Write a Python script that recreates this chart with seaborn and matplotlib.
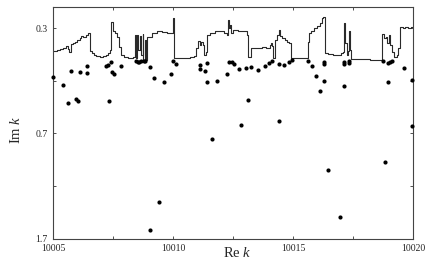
import numpy as np
import pandas as pd
import seaborn as sns
import matplotlib
matplotlib.use('Agg')
import matplotlib.pyplot as plt
from matplotlib.ticker import FixedLocator, NullFormatter

# step curve (Re k, Im k)
line_re = [10005.000, 10005.154, 10005.279, 10005.404, 10005.529, 10005.592, 10005.633, 10005.675,
           10005.738, 10005.821, 10005.904, 10005.988, 10006.113, 10006.154, 10006.238, 10006.363,
           10006.446, 10006.529, 10006.613, 10006.696, 10006.779, 10006.946, 10007.071, 10007.196,
           10007.279, 10007.363, 10007.404, 10007.467, 10007.571, 10007.654, 10007.738, 10007.821,
           10007.946, 10008.113, 10008.321, 10008.404, 10008.446, 10008.508, 10008.550, 10008.613,
           10008.654, 10008.717, 10008.758, 10008.821, 10008.863, 10008.925, 10009.113, 10009.321,
           10009.529, 10009.738, 10009.925, 10009.967, 10010.029, 10010.279, 10010.529, 10010.696,
           10010.863, 10010.946, 10011.029, 10011.113, 10011.154, 10011.238, 10011.300, 10011.363,
           10011.404, 10011.529, 10011.738, 10011.946, 10012.113, 10012.238, 10012.279, 10012.321,
           10012.383, 10012.425, 10012.488, 10012.696, 10012.904, 10013.071, 10013.125, 10013.225,
           10013.488, 10013.696, 10013.863, 10013.958, 10014.029, 10014.071, 10014.100, 10014.142,
           10014.238, 10014.308, 10014.404, 10014.446, 10014.517, 10014.654, 10014.750, 10014.833,
           10014.904, 10015.625, 10015.675, 10015.738, 10015.863, 10015.988, 10016.113, 10016.196,
           10016.250, 10016.321, 10016.446, 10016.654, 10016.863, 10016.988, 10017.071, 10017.113,
           10017.154, 10017.217, 10017.279, 10017.321, 10017.363, 10017.404, 10017.779, 10018.196,
           10018.683, 10018.779, 10018.863, 10018.925, 10019.008, 10019.050, 10019.133, 10019.196,
           10019.321, 10019.383, 10019.446, 10019.571, 10019.675, 10019.779, 10019.904, 10020.000]
line_im = [0.363, 0.360, 0.357, 0.352, 0.347, 0.350, 0.355, 0.364,
           0.343, 0.340, 0.336, 0.331, 0.327, 0.320, 0.322, 0.318,
           0.313, 0.363, 0.369, 0.374, 0.377, 0.379, 0.378, 0.375,
           0.369, 0.359, 0.287, 0.309, 0.313, 0.322, 0.350, 0.374,
           0.381, 0.383, 0.381, 0.318, 0.383, 0.317, 0.359, 0.321,
           0.374, 0.316, 0.389, 0.331, 0.389, 0.322, 0.313, 0.309,
           0.311, 0.313, 0.313, 0.278, 0.384, 0.384, 0.383, 0.381,
           0.377, 0.354, 0.334, 0.345, 0.337, 0.345, 0.374, 0.365,
           0.318, 0.313, 0.308, 0.309, 0.313, 0.318, 0.282, 0.301,
           0.293, 0.313, 0.305, 0.308, 0.309, 0.318, 0.379, 0.352,
           0.354, 0.350, 0.353, 0.354, 0.345, 0.339, 0.348, 0.384,
           0.331, 0.318, 0.305, 0.321, 0.327, 0.331, 0.336, 0.340,
           0.384, 0.336, 0.313, 0.309, 0.301, 0.295, 0.289, 0.278,
           0.275, 0.368, 0.372, 0.374, 0.374, 0.369, 0.364, 0.289,
           0.340, 0.374, 0.362, 0.309, 0.359, 0.386, 0.387, 0.388,
           0.316, 0.327, 0.322, 0.340, 0.317, 0.345, 0.364, 0.379,
           0.374, 0.354, 0.297, 0.301, 0.297, 0.301, 0.297, 0.297]

# resonances (Re k, Im k)
pts_re = [10005.00, 10005.42, 10005.62, 10005.72, 10005.93, 10006.02, 10006.11, 10006.42,
          10006.42, 10007.21, 10007.30, 10007.39, 10007.43, 10007.51, 10007.32, 10007.81,
          10008.43, 10008.51, 10008.59, 10008.67, 10008.76, 10008.84, 10009.02, 10009.21,
          10009.61, 10009.92, 10010.00, 10010.11, 10011.11, 10011.11, 10011.32, 10011.42,
          10011.42, 10011.63, 10011.83, 10012.23, 10012.33, 10012.43, 10012.52, 10012.74,
          10012.82, 10013.02, 10013.13, 10013.23, 10013.52, 10013.83, 10014.00, 10014.10,
          10014.42, 10014.42, 10014.62, 10014.81, 10014.93, 10015.63, 10015.76, 10015.93,
          10016.13, 10016.30, 10016.30, 10016.30, 10016.43, 10016.93, 10017.11, 10017.11,
          10017.11, 10017.33, 10017.33, 10018.72, 10018.82, 10018.93, 10018.93, 10019.03,
          10019.13, 10019.62, 10019.93, 10019.93, 10009.42, 10009.02]
pts_im = [0.447, 0.476, 0.550, 0.425, 0.535, 0.541, 0.429, 0.407,
          0.431, 0.407, 0.406, 0.395, 0.429, 0.437, 0.544, 0.407,
          0.393, 0.394, 0.394, 0.393, 0.393, 0.392, 0.411, 0.451,
          0.465, 0.436, 0.392, 0.401, 0.405, 0.419, 0.426, 0.398,
          0.466, 0.737, 0.461, 0.437, 0.396, 0.397, 0.403, 0.417,
          0.657, 0.416, 0.536, 0.412, 0.423, 0.409, 0.398, 0.392,
          0.401, 0.636, 0.404, 0.396, 0.390, 0.393, 0.407, 0.444,
          0.498, 0.395, 0.402, 0.462, 0.946, 1.380, 0.396, 0.403,
          0.479, 0.392, 0.398, 0.391, 0.887, 0.400, 0.465, 0.397,
          0.392, 0.416, 0.457, 0.665, 1.223, 1.533]

x_ticks = [10005, 10010, 10015, 10020]
x_minor = [10007.5, 10012.5, 10017.5]
y_ticks = [np.exp(-1.2), np.exp(-0.35), np.exp(0.5)]
y_labels = ['0.3', '0.7', '1.7']
y_minor = [np.exp(-0.775), np.exp(0.075)]

sns.set_style('ticks')
plt.rcParams['font.family'] = ['Liberation Serif', 'DejaVu Serif']
plt.rcParams['mathtext.fontset'] = 'custom'
plt.rcParams['mathtext.rm'] = 'Liberation Serif'
plt.rcParams['mathtext.it'] = 'Liberation Serif:italic'

line_df = pd.DataFrame({'re': line_re, 'im': line_im})
pts_df = pd.DataFrame({'re': pts_re, 'im': pts_im})

fig = plt.figure(figsize=(4.36, 2.69), dpi=100)
ax = fig.add_axes([53.3 / 436, 1 - 238.7 / 269, 360 / 436, 231.7 / 269])

sns.lineplot(data=line_df, x='re', y='im', ax=ax, color='#2a2a2a', linewidth=0.8,
             drawstyle='steps-post', estimator=None, sort=False)
sns.scatterplot(data=pts_df, x='re', y='im', ax=ax, color='black', s=9,
                linewidth=0, zorder=3, clip_on=False)

ax.set_yscale('log')
ax.set_xlim(10005, 10020)
ax.set_ylim(np.exp(0.5), np.exp(-1.372))

ax.xaxis.set_major_locator(FixedLocator(x_ticks))
ax.xaxis.set_minor_locator(FixedLocator(x_minor))
ax.set_xticklabels([str(t) for t in x_ticks])
ax.yaxis.set_major_locator(FixedLocator(y_ticks))
ax.yaxis.set_minor_locator(FixedLocator(y_minor))
ax.yaxis.set_minor_formatter(NullFormatter())
ax.set_yticklabels(y_labels)

ax.tick_params(which='both', direction='in', top=True, right=True,
               length=2.5, width=0.6, labelsize=7, pad=4, color='#333333')
for sp in ax.spines.values():
    sp.set_linewidth(0.8)
    sp.set_color('#444444')

ax.set_xlabel('Re $k$', fontsize=10.5, va='center')
ax.xaxis.set_label_coords(0.51, -0.06)
ax.set_ylabel('Im $k$', fontsize=10.5, va='center')
ax.yaxis.set_label_coords(-0.104, 0.47)

plt.savefig('out.png', dpi=100)
